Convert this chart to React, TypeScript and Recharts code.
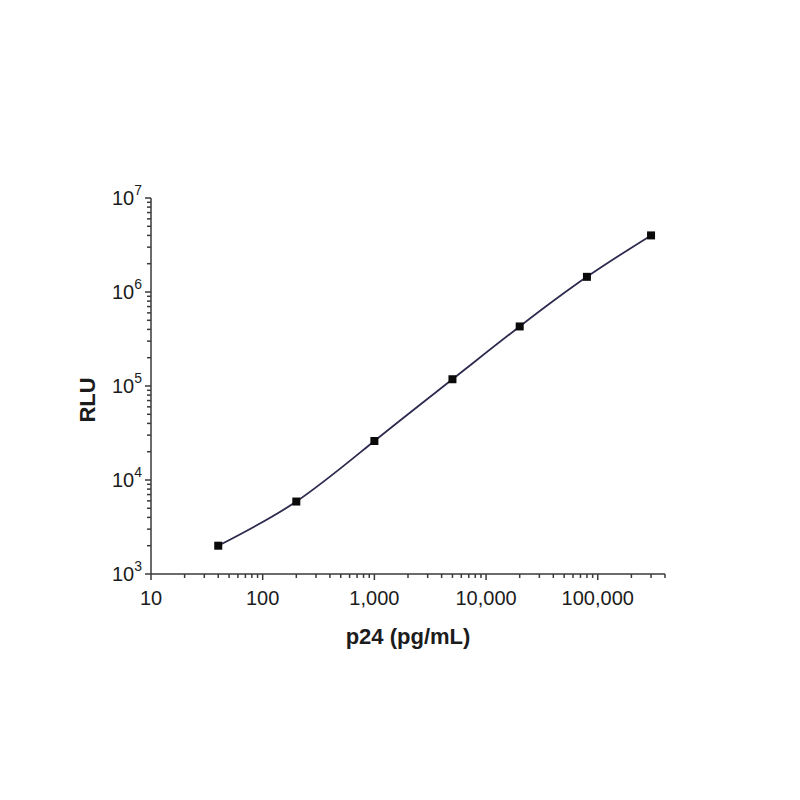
import React from "react";
import { ComposedChart, Line, XAxis, YAxis } from "recharts";

// standard curve: p24 concentration vs luminescence
const p24 = [40, 200, 1000, 5000, 20000, 80000, 300000];
const rlu = [2000, 5900, 26000, 118000, 430000, 1450000, 4000000];

const xDecades = [10, 100, 1000, 10000, 100000];
const xLabels = ["10", "100", "1,000", "10,000", "100,000"];
const yDecades = [1000, 10000, 100000, 1000000, 10000000];
const yExponents = ["3", "4", "5", "6", "7"];

const minors = (decades: number[]) =>
    decades.flatMap((d) => [d, 2 * d, 3 * d, 4 * d, 5 * d, 6 * d, 7 * d, 8 * d, 9 * d]);

const xTicks = [...minors(xDecades).filter((v) => v <= 400000)];
const yTicks = [...minors(yDecades.slice(0, 4)), 10000000];

const data = p24.map((x, i) => ({ x, y: rlu[i] }));

const FONT = "'Liberation Sans', Arial, sans-serif";
const AXIS = "#3a3a3a";
const TEXT = "#1c1c1c";

const XTick = (props: any) => {
    const { x, y, payload } = props;
    const i = xDecades.indexOf(payload.value);
    const major = i >= 0;
    return (
        <g>
            <line x1={x} x2={x} y1={y} y2={y + (major ? 6 : 4)} stroke={AXIS} strokeWidth={1.5} />
            {major && (
                <text x={x} y={y + 31} textAnchor="middle" fontSize={20} fontFamily={FONT} fill={TEXT}>
                    {xLabels[i]}
                </text>
            )}
        </g>
    );
};

const YTick = (props: any) => {
    const { x, y, payload } = props;
    const i = yDecades.indexOf(payload.value);
    const major = i >= 0;
    return (
        <g>
            <line x1={x} x2={x - (major ? 6 : 4)} y1={y} y2={y} stroke={AXIS} strokeWidth={1.5} />
            {major && (
                <text x={x - 9} y={y + 7} textAnchor="end" fontSize={20} fontFamily={FONT} fill={TEXT}>
                    <tspan>10</tspan>
                    <tspan dy={-10} fontSize={14}>{yExponents[i]}</tspan>
                </text>
            )}
        </g>
    );
};

const SquareDot = (props: any) => {
    const { cx, cy, index } = props;
    return <rect key={index} x={cx - 4} y={cy - 4} width={8} height={8} fill="#0a0a0a" />;
};

const XTitle = (props: any) => {
    const vb = props.viewBox;
    return (
        <text x={vb.x + vb.width / 2} y={vb.y + 70} textAnchor="middle" fontSize={22} fontWeight="bold" fontFamily={FONT} fill={TEXT}>
            p24 (pg/mL)
        </text>
    );
};

const YTitle = (props: any) => {
    const vb = props.viewBox;
    const cy = vb.y + vb.height / 2 + 14;
    return (
        <text transform={`translate(95, ${cy}) rotate(-90)`} textAnchor="middle" fontSize={22} fontWeight="bold" fontFamily={FONT} fill={TEXT}>
            RLU
        </text>
    );
};

export default function App() {
    return (
        <div style={{ position: "absolute", left: 0, top: 0, background: "#fff" }}>
            <ComposedChart width={800} height={800} data={data} margin={{ top: 198, right: 135, bottom: 0, left: 0 }}>
                <XAxis
                    dataKey="x"
                    type="number"
                    scale="log"
                    domain={[10, 400000]}
                    ticks={xTicks}
                    interval={0}
                    allowDataOverflow
                    height={226}
                    tickSize={0}
                    tickMargin={0}
                    tickLine={false}
                    tick={<XTick />}
                    axisLine={{ stroke: AXIS, strokeWidth: 1.5 }}
                    label={<XTitle />}
                />
                <YAxis
                    type="number"
                    scale="log"
                    domain={[1000, 10000000]}
                    ticks={yTicks}
                    interval={0}
                    allowDataOverflow
                    width={151}
                    tickSize={0}
                    tickMargin={0}
                    tickLine={false}
                    tick={<YTick />}
                    axisLine={{ stroke: AXIS, strokeWidth: 1.5 }}
                    label={<YTitle />}
                />
                <Line
                    dataKey="y"
                    type="natural"
                    stroke="#2d2b4e"
                    strokeWidth={1.8}
                    dot={<SquareDot />}
                    activeDot={false}
                    isAnimationActive={false}
                />
            </ComposedChart>
        </div>
    );
}
